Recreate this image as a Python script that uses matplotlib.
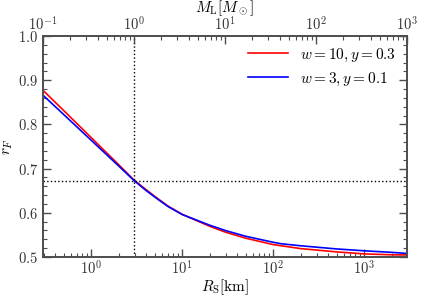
import matplotlib
matplotlib.use("Agg")
import matplotlib.pyplot as plt
from matplotlib.ticker import MultipleLocator, LogLocator, NullFormatter

plt.rcParams['font.family'] = 'serif'
plt.rcParams['font.serif'] = ['cmr10']
plt.rcParams['mathtext.fontset'] = 'cm'
plt.rcParams['axes.formatter.use_mathtext'] = True

# Schwarzschild radius [km] and Fresnel ratio curves
rs_km = [0.2953, 0.5, 1, 2, 2.953, 4, 5, 7, 10, 12.6, 20, 30, 50, 100, 122, 200, 500, 1000, 2000, 2953]
rf_w10 = [0.877, 0.831, 0.770, 0.709, 0.674, 0.6525, 0.637, 0.615, 0.5965, 0.5875, 0.5695, 0.556,
          0.5425, 0.528, 0.5255, 0.519, 0.5115, 0.507, 0.505, 0.5045]
rf_w3 = [0.866, 0.822, 0.764, 0.706, 0.673, 0.6505, 0.6355, 0.614, 0.596, 0.588, 0.572, 0.5597,
         0.5468, 0.5333, 0.530, 0.5254, 0.5182, 0.514, 0.5105, 0.508]
labels = [r'$w=10, y=0.3$', r'$w=3, y=0.1$']
rs_per_msun = 2.953
rf_ref = 0.673

fig = plt.figure(figsize=(4.22, 2.97), dpi=100)
ax = fig.add_axes([0.102, 0.1347, 0.8625, 0.7441])

ax.plot(rs_km, rf_w10, color='red', lw=1.2, label=labels[0])
ax.plot(rs_km, rf_w3, color='blue', lw=1.2, label=labels[1])
ax.axvline(rs_per_msun, color='black', ls=':', lw=1.0)
ax.axhline(rf_ref, color='black', ls=':', lw=1.0)

ax.set_xscale('log')
ax.set_xlim(0.1 * rs_per_msun, 1000 * rs_per_msun)
ax.set_ylim(0.5, 1.0)
ax.yaxis.set_major_locator(MultipleLocator(0.1))
ax.yaxis.set_minor_locator(MultipleLocator(0.02))
ax.xaxis.set_major_locator(LogLocator(base=10))
ax.xaxis.set_minor_locator(LogLocator(base=10, subs=range(2, 10)))
ax.xaxis.set_minor_formatter(NullFormatter())

ax.set_xlabel(r'$R_{\rm S}[{\rm km}]$', fontsize=11, labelpad=0)
ax.set_ylabel(r'$r_F$', fontsize=11, labelpad=2)

top = ax.twiny()
top.set_xscale('log')
top.set_xlim(0.1, 1000)
top.xaxis.set_minor_locator(LogLocator(base=10, subs=range(2, 10)))
top.xaxis.set_minor_formatter(NullFormatter())
top.set_xlabel(r'$M_{\rm L}[M_\odot]$', fontsize=11, labelpad=2)

for a in (ax, top):
    a.tick_params(which='both', direction='in', colors='0.3', labelcolor='0.2',
                  labelsize=10.5, top=True, right=True)
    a.tick_params(which='major', length=6, width=1.0)
    a.tick_params(which='minor', length=3, width=0.8)
    for s in a.spines.values():
        s.set_color('0.3')
        s.set_linewidth(1.2)
top.tick_params(axis='x', which='both', bottom=False, pad=2)
ax.tick_params(axis='x', which='both', top=False, pad=2)

ax.legend(loc='upper right', frameon=False, fontsize=11, handlelength=2.6,
          borderaxespad=0.3, labelspacing=0.45)

fig.savefig('out.png', dpi=100)
